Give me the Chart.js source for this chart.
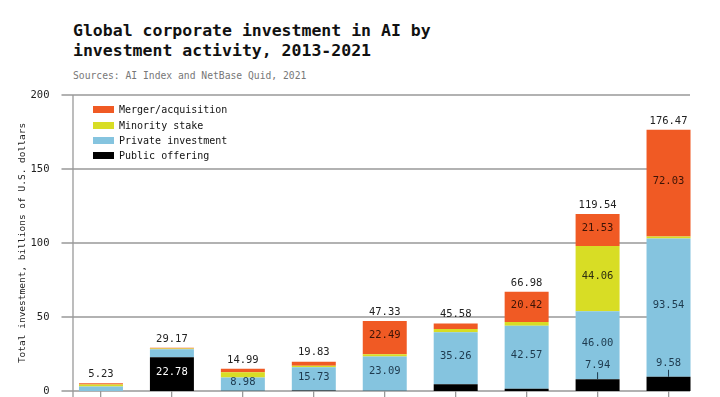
<!DOCTYPE html>
<html>
<head>
<meta charset="utf-8">
<script src="https://cdn.jsdelivr.net/npm/chart.js@4/dist/chart.umd.min.js"></script>
<style>
    html, body { margin: 0; padding: 0; background: #fff; overflow: hidden; width: 720px; height: 397px; }
    body { position: relative; font-family: "DejaVu Sans Mono", "Liberation Mono", monospace; }
    #title { position: absolute; left: 73px; top: 21px; font-size: 16.5px; font-weight: bold; line-height: 20px; color: #111; }
    #subtitle { position: absolute; left: 73px; top: 70px; font-size: 9.7px; color: #777; }
    #chart-wrap { position: absolute; left: 0; top: 0; width: 720px; height: 430px; }
    #legend { position: absolute; left: 93px; top: 102px; font-size: 10px; color: #111; }
    .legend-row { height: 15.4px; display: flex; align-items: center; }
    .legend-swatch { width: 21px; height: 7px; margin-right: 5px; }
</style>
</head>
<body>
<div id="title">Global corporate investment in AI by<br>investment activity, 2013-2021</div>
<div id="subtitle">Sources: AI Index and NetBase Quid, 2021</div>
<div id="chart-wrap"><canvas id="chart"></canvas></div>
<div id="legend"></div>
<script>
const years = ['2013', '2014', '2015', '2016', '2017', '2018', '2019', '2020', '2021'];
const publicOffering = [0, 22.78, 0.2, 0.3, 0.25, 4.5, 1.5, 7.94, 9.58];
const privateInvestment = [3.1, 5.4, 8.98, 15.73, 23.09, 35.26, 42.57, 46.00, 93.54];
const minorityStake = [1.3, 0.5, 3.5, 1.1, 1.5, 2.2, 2.49, 44.06, 1.32];
const mergerAcquisition = [0.83, 0.49, 2.31, 2.7, 22.49, 3.62, 20.42, 21.53, 72.03];
const totals = [5.23, 29.17, 14.99, 19.83, 47.33, 45.58, 66.98, 119.54, 176.47];
const yTicks = [0, 50, 100, 150, 200];

const MONO = '"DejaVu Sans Mono", "Liberation Mono", monospace';

const datasets = [
    { label: 'Public offering', data: publicOffering, backgroundColor: '#000000', labelColor: '#ffffff' },
    { label: 'Private investment', data: privateInvestment, backgroundColor: '#85c4df', labelColor: '#1e3a4e' },
    { label: 'Minority stake', data: minorityStake, backgroundColor: '#d8dd25', labelColor: '#2e2e10' },
    { label: 'Merger/acquisition', data: mergerAcquisition, backgroundColor: '#f05a24', labelColor: '#3c1406' }
];

// legend, top to bottom in stack order
const legendBox = document.getElementById('legend');
datasets.slice().reverse().forEach(ds => {
    const row = document.createElement('div');
    row.className = 'legend-row';
    row.innerHTML = `<span class="legend-swatch" style="background:${ds.backgroundColor}"></span><span>${ds.label}</span>`;
    legendBox.appendChild(row);
});

// grid lines that stop short of the right edge, plus the y axis line
const gridPlugin = {
    id: 'gridPlugin',
    beforeDatasetsDraw(chart) {
        const { ctx, chartArea, scales } = chart;
        ctx.save();
        ctx.strokeStyle = '#999';
        ctx.lineWidth = 1.3;
        yTicks.forEach(v => {
            const y = scales.y.getPixelForValue(v);
            ctx.beginPath();
            ctx.moveTo(chartArea.left - 4, y);
            ctx.lineTo(chartArea.right - 14, y);
            ctx.stroke();
        });
        const axisX = chartArea.left + 7.5;
        ctx.beginPath();
        ctx.moveTo(axisX, scales.y.getPixelForValue(200));
        ctx.lineTo(axisX, chartArea.bottom + 8);
        ctx.stroke();
        ctx.restore();
    }
};

// value labels: totals above bars, big segments inside
const labelPlugin = {
    id: 'labelPlugin',
    afterDatasetsDraw(chart) {
        const { ctx, scales } = chart;
        ctx.save();
        ctx.font = `10.5px ${MONO}`;
        ctx.textAlign = 'center';
        ctx.textBaseline = 'middle';
        chart.data.datasets.forEach((ds, di) => {
            const meta = chart.getDatasetMeta(di);
            meta.data.forEach((bar, i) => {
                const v = ds.data[i];
                if (v < 7.5) return;
                const text = v.toFixed(2);
                if (di === 0 && v < 15) {
                    // small public offering: label above with a leader line
                    ctx.fillStyle = '#1e3a4e';
                    ctx.fillText(text, bar.x, bar.y - 14);
                    ctx.strokeStyle = '#1e3a4e';
                    ctx.lineWidth = 1;
                    ctx.beginPath();
                    ctx.moveTo(bar.x, bar.y - 7);
                    ctx.lineTo(bar.x, bar.y);
                    ctx.stroke();
                } else {
                    ctx.fillStyle = ds.labelColor;
                    ctx.fillText(text, bar.x, (bar.y + bar.base) / 2 - 2);
                }
            });
        });
        ctx.fillStyle = '#222';
        const meta0 = chart.getDatasetMeta(0);
        totals.forEach((t, i) => {
            const x = meta0.data[i].x;
            const y = scales.y.getPixelForValue(t);
            ctx.fillText(t.toFixed(2), x, y - 9);
        });
        ctx.restore();
    }
};

new Chart(document.getElementById('chart'), {
    type: 'bar',
    data: {
        labels: years,
        datasets: datasets.map(ds => ({
            label: ds.label,
            data: ds.data,
            backgroundColor: ds.backgroundColor,
            labelColor: ds.labelColor,
            borderWidth: 0,
            barPercentage: 0.62,
            categoryPercentage: 1
        }))
    },
    options: {
        responsive: true,
        maintainAspectRatio: false,
        animation: false,
        layout: { padding: { top: 95, right: 16, bottom: 9, left: 0 } },
        plugins: {
            legend: { display: false },
            tooltip: { enabled: false }
        },
        scales: {
            x: {
                stacked: true,
                grid: { offset: false, drawOnChartArea: false, tickLength: 7, color: '#999', lineWidth: 1.3 },
                border: { display: false },
                ticks: { color: '#222', font: { family: MONO, size: 10.5 }, padding: 4 },
                afterFit(scale) { scale.height = 30; }
            },
            y: {
                stacked: true,
                min: 0,
                max: 200,
                grid: { display: false },
                border: { display: false },
                ticks: {
                    stepSize: 50,
                    padding: 8,
                    color: '#222',
                    font: { family: MONO, size: 10.5 }
                },
                title: {
                    display: true,
                    text: 'Total investment, billions of U.S. dollars',
                    color: '#222',
                    font: { family: MONO, size: 9.5 },
                    padding: { top: 17, bottom: 0 }
                },
                afterFit(scale) { scale.width = 65.5; }
            }
        }
    },
    plugins: [gridPlugin, labelPlugin]
});
</script>
</body>
</html>
